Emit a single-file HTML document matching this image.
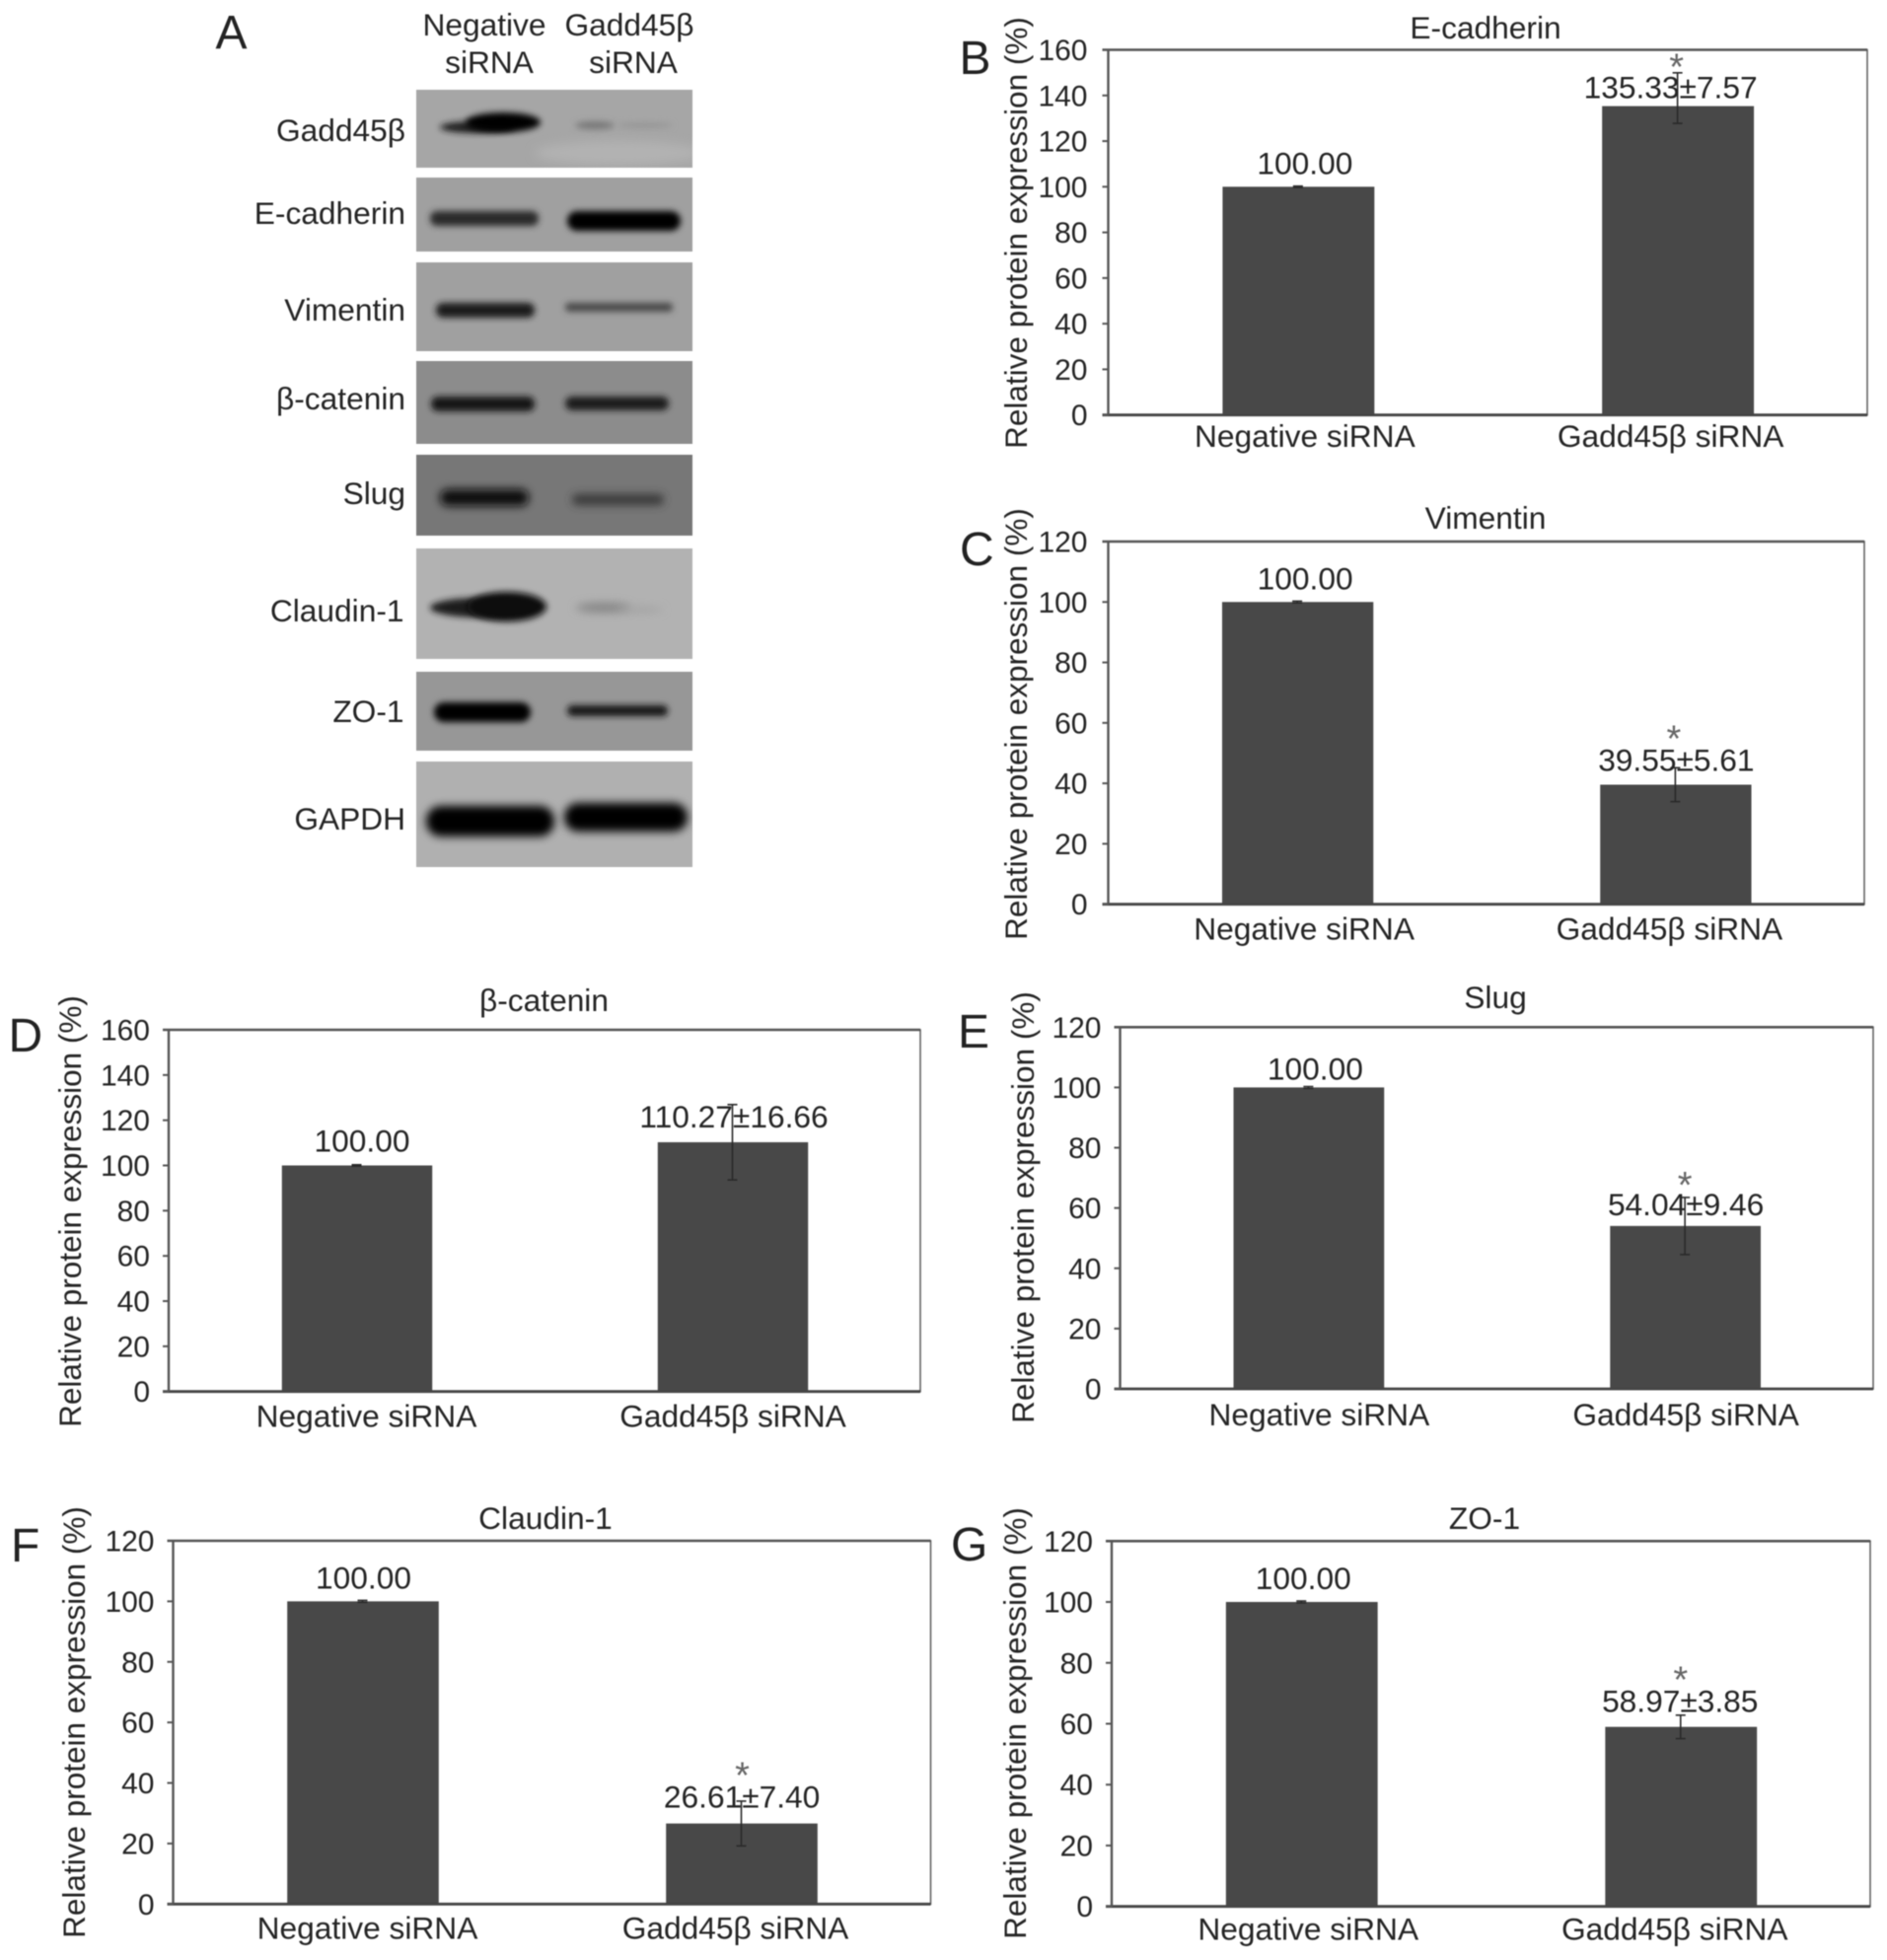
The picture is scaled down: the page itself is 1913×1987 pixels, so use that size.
<!DOCTYPE html>
<html lang="en">
<head>
<meta charset="utf-8">
<title>Gadd45β siRNA western blots and protein expression</title>
<style>
html,body{margin:0;padding:0;background:#fff;width:1913px;height:1987px;overflow:hidden}
svg{display:block}
#figure{filter:blur(0.55px)}
text{font-family:"Liberation Sans",Arial,sans-serif;fill:#242424;font-size:31.7px}
.letter{font-size:48px;fill:#222}
.tick{font-size:30px}
.star{font-size:38px;fill:#666}
.axis-title{font-size:31.5px}
</style>
</head>
<body>
<svg id="figure" xmlns="http://www.w3.org/2000/svg" width="1913" height="1987" viewBox="0 0 1913 1987">
<defs>
<filter id="b2" x="-30%" y="-150%" width="160%" height="400%"><feGaussianBlur stdDeviation="3.3"/></filter>
<filter id="b3" x="-30%" y="-150%" width="160%" height="400%"><feGaussianBlur stdDeviation="4.4"/></filter>
<filter id="b5" x="-30%" y="-100%" width="160%" height="300%"><feGaussianBlur stdDeviation="5"/></filter>
</defs>

<g id="panel-a">
<text class="letter" x="218.5" y="49">A</text>
<text x="491" y="36" text-anchor="middle">Negative</text>
<text x="496" y="74" text-anchor="middle">siRNA</text>
<text x="638" y="36" text-anchor="middle">Gadd45β</text>
<text x="642" y="74" text-anchor="middle">siRNA</text>

<text x="411" y="143" text-anchor="end">Gadd45β</text>
<text x="411" y="227" text-anchor="end">E-cadherin</text>
<text x="411" y="325" text-anchor="end">Vimentin</text>
<text x="411" y="415" text-anchor="end">β-catenin</text>
<text x="411" y="511" text-anchor="end">Slug</text>
<text x="409.5" y="630" text-anchor="end">Claudin-1</text>
<text x="409.5" y="732" text-anchor="end">ZO-1</text>
<text x="411" y="841" text-anchor="end">GAPDH</text>

<svg x="422" y="91" width="280" height="79">
<rect width="280" height="79" fill="#a6a6a6"/>
<ellipse cx="205" cy="64" rx="85" ry="12" fill="#b2b2b2" filter="url(#b5)"/>
<ellipse cx="62" cy="38" rx="38" ry="6" fill="#1c1c1c" filter="url(#b2)"/>
<ellipse cx="88" cy="33" rx="38" ry="10" fill="#050505" filter="url(#b2)"/>
<ellipse cx="181" cy="36" rx="20" ry="4" fill="#777" filter="url(#b2)"/>
<ellipse cx="232" cy="36" rx="28" ry="2.5" fill="#939393" filter="url(#b2)"/>
</svg>
<svg x="422" y="180" width="280" height="75">
<rect width="280" height="75" fill="#a0a0a0"/>
<rect x="14" y="34" width="110" height="15" rx="7" fill="#2c2c2c" filter="url(#b2)"/>
<rect x="153" y="34" width="115" height="20" rx="10" fill="#050505" filter="url(#b2)"/>
</svg>
<svg x="422" y="266" width="280" height="90">
<rect width="280" height="90" fill="#a0a0a0"/>
<rect x="20" y="41" width="100" height="15" rx="7" fill="#1a1a1a" filter="url(#b2)"/>
<rect x="151" y="41" width="109" height="9" rx="4" fill="#4a4a4a" filter="url(#b2)"/>
</svg>
<svg x="422" y="366" width="280" height="84">
<rect width="280" height="84" fill="#8c8c8c"/>
<rect x="15" y="36" width="105" height="15" rx="7" fill="#161616" filter="url(#b2)"/>
<rect x="151" y="36" width="105" height="14" rx="7" fill="#1c1c1c" filter="url(#b2)"/>
</svg>
<svg x="422" y="461" width="280" height="82">
<rect width="280" height="82" fill="#777"/>
<rect x="24" y="35" width="90" height="17" rx="8" fill="#0e0e0e" filter="url(#b3)"/>
<rect x="158" y="40" width="93" height="11" rx="5" fill="#383838" filter="url(#b3)"/>
</svg>
<svg x="422" y="556" width="280" height="112">
<rect width="280" height="112" fill="#b2b2b2"/>
<ellipse cx="66" cy="60" rx="52" ry="10" fill="#1e1e1e" filter="url(#b2)"/>
<ellipse cx="92" cy="59" rx="40" ry="15" fill="#0c0c0c" filter="url(#b2)"/>
<ellipse cx="190" cy="60" rx="28" ry="5" fill="#858585" filter="url(#b3)"/>
<ellipse cx="228" cy="62" rx="22" ry="3" fill="#a2a2a2" filter="url(#b3)"/>
</svg>
<svg x="422" y="681" width="280" height="80">
<rect width="280" height="80" fill="#979797"/>
<rect x="18" y="31" width="98" height="20" rx="10" fill="#000" filter="url(#b2)"/>
<rect x="153" y="34" width="102" height="11" rx="5" fill="#121212" filter="url(#b2)"/>
</svg>
<svg x="422" y="772" width="280" height="107">
<rect width="280" height="107" fill="#b0b0b0"/>
<rect x="10" y="45" width="130" height="31" rx="15" fill="#000" filter="url(#b3)"/>
<rect x="150" y="42" width="125" height="29" rx="14" fill="#000" filter="url(#b3)"/>
</svg>
</g>

<g id="charts"></g>
</svg>

<script>
const categories = ['Negative siRNA', 'Gadd45β siRNA'];
const yTicks160 = [0, 20, 40, 60, 80, 100, 120, 140, 160];
const yTicks120 = [0, 20, 40, 60, 80, 100, 120];
const yAxisTitle = 'Relative protein expression (%)';

const titleB = 'E-cadherin';
const valuesB = [100, 135.33];
const errorsB = [0.3, 7.57];
const errorsUpB = [0.3, 14.6];

const titleC = 'Vimentin';
const valuesC = [100, 39.55];
const errorsC = [0.3, 5.61];

const titleD = 'β-catenin';
const valuesD = [100, 110.27];
const errorsD = [0.3, 16.66];

const titleE = 'Slug';
const valuesE = [100, 54.04];
const errorsE = [0.3, 9.46];

const titleF = 'Claudin-1';
const valuesF = [100, 26.61];
const errorsF = [0.3, 7.40];

const titleG = 'ZO-1';
const valuesG = [100, 58.97];
const errorsG = [0.3, 3.85];

const NS = 'http://www.w3.org/2000/svg';
const root = document.getElementById('charts');

function make(parent, tag, attrs, content) {
  const el = document.createElementNS(NS, tag);
  for (const k in attrs) el.setAttribute(k, attrs[k]);
  if (content !== undefined) el.textContent = content;
  parent.appendChild(el);
  return el;
}
function linearY(frame, max) {
  return function (v) { return frame.bottom - (v / max) * (frame.bottom - frame.top); };
}
function bandX(frame, count) {
  const band = (frame.right - frame.left) / count;
  return function (i) { return frame.left + band * (i + 0.5); };
}
function bandWidth(frame, count) {
  return (frame.right - frame.left) / count * 0.4;
}

function drawPanel(cfg) {
  const f = cfg.frame;
  const y = linearY(f, cfg.max);
  const x = bandX(f, categories.length);
  const w = bandWidth(f, categories.length);

  const g = make(root, 'g', {});
  
  

  const letter = make(g, 'text', { class: 'letter', x: cfg.letter[0], y: cfg.letter[1] }, cfg.key.toUpperCase());
  
  

  const title = make(g, 'text', { x: cfg.titlePos[0], y: cfg.titlePos[1], 'text-anchor': 'middle' }, cfg.title);
  
  

  const axTitle = make(g, 'text', {
    class: 'axis-title',
    x: cfg.axisTitlePos[0], y: cfg.axisTitlePos[1], 'text-anchor': 'middle',
    transform: 'rotate(-90 ' + cfg.axisTitlePos[0] + ' ' + cfg.axisTitlePos[1] + ')'
  }, yAxisTitle);
  
  

  cfg.values.forEach(function (v, i) {
    const top = y(v);
    const bar = make(g, 'rect', { x: x(i) + 0.5 - w / 2, y: top, width: w, height: f.bottom - top, fill: '#484848' });
    
    
  });

  const frameRect = make(g, 'path', {
    d: 'M' + f.left + ' ' + f.top + 'H' + f.right + 'V' + f.bottom + 'H' + f.left + 'Z',
    fill: 'none', stroke: '#666', 'stroke-width': 1.6
  });
  
  

  const topLine = make(g, 'line', { x1: f.left - 6, x2: f.right, y1: f.top, y2: f.top, stroke: '#555', 'stroke-width': 2.6 });
  
  

  const xAxis = make(g, 'line', { x1: f.left - 6, x2: f.right, y1: f.bottom, y2: f.bottom, stroke: '#444', 'stroke-width': 2.8 });
  
  

  const yAxis = make(g, 'line', { x1: f.left, x2: f.left, y1: f.top, y2: f.bottom, stroke: '#555', 'stroke-width': 2.4 });
  
  

  cfg.ticks.forEach(function (t) {
    const mark = make(g, 'line', { x1: f.left - 6, x2: f.left, y1: y(t), y2: y(t), stroke: '#555', 'stroke-width': 2 });
    
    
    const lab = make(g, 'text', { class: 'tick', x: f.left - cfg.tickGap, y: y(t) + 10.5, 'text-anchor': 'end' }, String(t));
    
    
  });

  categories.forEach(function (c, i) {
    const lab = make(g, 'text', { x: x(i) + cfg.catDx[i], y: f.bottom + cfg.catDy, 'text-anchor': 'middle' }, c);
    
    
  });

  cfg.values.forEach(function (v, i) {
    const up = (cfg.errorsUp || cfg.errors)[i];
    const cx = x(i);
    const err = make(g, 'path', {
      d: 'M' + cx + ' ' + y(v + up) + 'V' + y(v - cfg.errors[i]) +
         'M' + (cx - 5) + ' ' + y(v + up) + 'h10' +
         'M' + (cx - 5) + ' ' + y(v - cfg.errors[i]) + 'h10',
      fill: 'none', stroke: '#2a2a2a', 'stroke-width': 1.6
    });
    
    

    const printed = i === 0 ? v.toFixed(2) : v.toFixed(2) + '±' + cfg.errors[i].toFixed(2);
    const val = make(g, 'text', { x: cx + cfg.valDx[i], y: y(v) + cfg.valDy[i], 'text-anchor': 'middle' }, printed);
    
    
  });

  if (cfg.starDy !== null) {
    const v = cfg.values[1];
    const star = make(g, 'text', { class: 'star', x: x(1) + cfg.starDx, y: y(v) + cfg.starDy + 18, 'text-anchor': 'middle' }, '*');
    
    
  }
}

drawPanel({ key: 'b', title: titleB, values: valuesB, errors: errorsB, errorsUp: errorsUpB, max: 160, ticks: yTicks160,
  frame: { left: 1123.5, right: 1893, top: 50.5, bottom: 420.7 }, letter: [972.5, 75], titlePos: [1506, 39], axisTitlePos: [1041, 236],
  tickGap: 21, catDx: [7, -7], catDy: 32.5, valDx: [7, -7], valDy: [-13, -8], starDx: -1, starDy: -45 });
drawPanel({ key: 'c', title: titleC, values: valuesC, errors: errorsC, max: 120, ticks: yTicks120,
  frame: { left: 1123.5, right: 1890, top: 549, bottom: 916.7 }, letter: [973, 573], titlePos: [1506, 536], axisTitlePos: [1041, 734],
  tickGap: 21, catDx: [7, -6], catDy: 36, valDx: [8, 1], valDy: [-13, -14], starDx: -1.5, starDy: -52 });
drawPanel({ key: 'd', title: titleD, values: valuesD, errors: errorsD, max: 160, ticks: yTicks160,
  frame: { left: 171, right: 933, top: 1044, bottom: 1410.7 }, letter: [8.5, 1066], titlePos: [551.5, 1025], axisTitlePos: [82, 1228],
  tickGap: 19, catDx: [10, 0.5], catDy: 36, valDx: [5.5, 1.5], valDy: [-14, -15], starDx: 0, starDy: null });
drawPanel({ key: 'e', title: titleE, values: valuesE, errors: errorsE, max: 120, ticks: yTicks120,
  frame: { left: 1135.5, right: 1899, top: 1041.3, bottom: 1408 }, letter: [971, 1062], titlePos: [1516, 1022], axisTitlePos: [1048, 1224],
  tickGap: 19, catDx: [11, 1], catDy: 37, valDx: [7, 1], valDy: [-8, -11], starDx: 0, starDy: -47 });
drawPanel({ key: 'f', title: titleF, values: valuesF, errors: errorsF, max: 120, ticks: yTicks120,
  frame: { left: 175.5, right: 943.5, top: 1562, bottom: 1930.3 }, letter: [11, 1583], titlePos: [553, 1550], axisTitlePos: [86, 1746],
  tickGap: 19, catDx: [5, -6], catDy: 35, valDx: [1, 0.6], valDy: [-13, -16], starDx: 1, starDy: -54 });
drawPanel({ key: 'g', title: titleG, values: valuesG, errors: errorsG, max: 120, ticks: yTicks120,
  frame: { left: 1127, right: 1896, top: 1562.3, bottom: 1932.7 }, letter: [964, 1582], titlePos: [1505, 1550], axisTitlePos: [1040, 1747],
  tickGap: 19, catDx: [7, -6], catDy: 34, valDx: [2, -0.5], valDy: [-13, -15], starDx: 0, starDy: -53 });
</script>
</body>
</html>
